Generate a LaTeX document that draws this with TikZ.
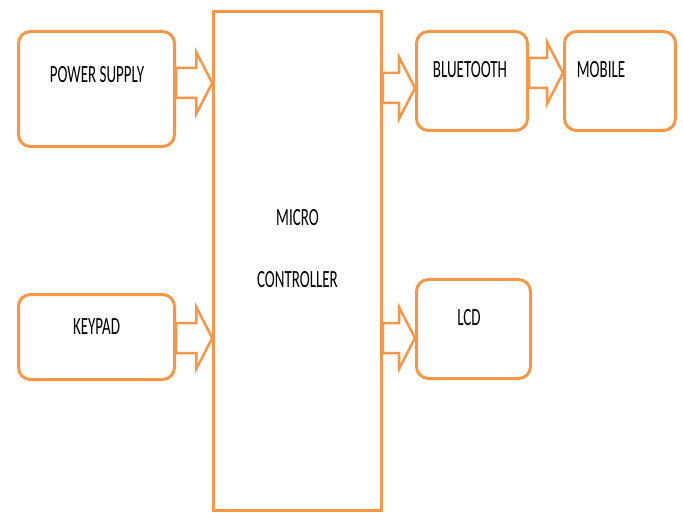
\documentclass[tikz,border=0pt]{standalone}
\usepackage{fontspec}
\setmainfont{Carlito}
\usepackage{graphicx}
\usetikzlibrary{calc}
\definecolor{boxorange}{RGB}{247,150,70}
\newcommand{\tall}[1]{\scalebox{1}[1.65]{#1}}
% block arrow: from node, to node, y of the tip
\newcommand{\blockarrow}[3]{%
  \coordinate (tl) at (#1.east |- 0,#3);
  \coordinate (hd) at (#2.west |- 0,#3);
  \draw[barr] ($(tl)+(0,-15)$) -- ($(hd)+(-16,-15)$) -- ($(hd)+(-16,-31)$)
    -- (hd) -- ($(hd)+(-16,31)$) -- ($(hd)+(-16,15)$) -- ($(tl)+(0,15)$) -- cycle;
}
\tikzset{
  blk/.style={rounded corners=12pt, draw=boxorange, line width=3pt},
  mcbox/.style={draw=boxorange, line width=2.5pt},
  barr/.style={draw=boxorange, fill=white, line width=2.5pt, line join=miter},
  lbl/.style={font=\fontsize{15}{18}\selectfont, inner sep=0pt, align=center},
}
\begin{document}
\begin{tikzpicture}[x=1pt, y=-1pt]
  \useasboundingbox (0,0) rectangle (683,513);
  % micro controller
  \node[mcbox, minimum width=168pt, minimum height=499pt] (mc) at (297.5,261) {};
  \node[lbl] (mctxt) at (297.5,249) {\tall{MICRO}\\[44pt]\tall{CONTROLLER}};
  % inputs
  \node[blk, minimum width=156pt, minimum height=115pt] (ps) at (96.5,89) {};
  \node[lbl] (pstxt) at (97,75) {\tall{POWER SUPPLY}};
  \node[blk, minimum width=156pt, minimum height=85pt] (kp) at (96.5,337) {};
  \node[lbl] (kptxt) at (96.5,327) {\tall{KEYPAD}};
  % outputs
  \node[blk, minimum width=111pt, minimum height=99pt] (bt) at (472,81) {};
  \node[lbl] (bttxt) at (470,69.5) {\tall{BLUETOOTH}};
  \node[blk, minimum width=111pt, minimum height=99pt] (mob) at (620,81) {};
  \node[lbl] (mobtxt) at (601,69.5) {\tall{MOBILE}};
  \node[blk, minimum width=114pt, minimum height=99pt] (lcd) at (473.5,329) {};
  \node[lbl] (lcdtxt) at (469,317.5) {\tall{LCD}};
  % arrows
  \blockarrow{ps}{mc}{83}
  \blockarrow{kp}{mc}{338}
  \blockarrow{mc}{bt}{88}
  \blockarrow{bt}{mob}{73}
  \blockarrow{mc}{lcd}{338}
\end{tikzpicture}
\end{document}
